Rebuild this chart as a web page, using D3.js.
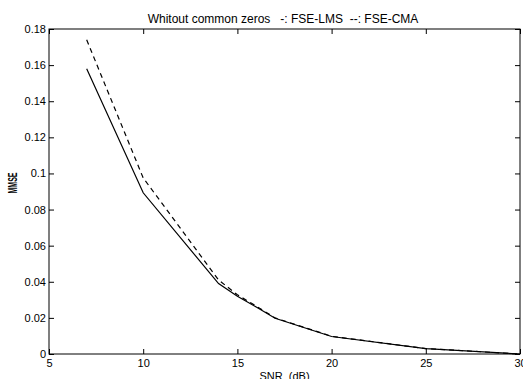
<!DOCTYPE html>
<html>
<head>
<meta charset="utf-8">
<script src="https://cdn.jsdelivr.net/npm/d3@7"></script>
<style>
    body { margin: 0; background: #fff; }
    svg { font-family: "Liberation Sans", Arial, sans-serif; }
    text { white-space: pre; }
</style>
</head>
<body>
<div id="chart"></div>
<script>
// SNR points (dB)
const snr = [7, 10, 14, 15, 16, 17, 20, 25, 30]
// -: FSE-LMS (solid)
const lmsMmse = [0.158, 0.0893, 0.039, 0.032, 0.026, 0.0198, 0.0097, 0.003, 0.0]
// --: FSE-CMA (dashed)
const cmaMmse = [0.174, 0.0975, 0.041, 0.0328, 0.0265, 0.0200, 0.0098, 0.003, 0.0]
const xTicks = [5, 10, 15, 20, 25, 30]
const yTicks = [0, 0.02, 0.04, 0.06, 0.08, 0.1, 0.12, 0.14, 0.16, 0.18]

const width = 523, height = 379
const margin = { top: 29, right: 3, bottom: 25, left: 49 }
const innerW = width - margin.left - margin.right
const innerH = height - margin.top - margin.bottom

const svg = d3.select('#chart').append('svg')
    .attr('width', width)
    .attr('height', height)

const g = svg.append('g')
    .attr('transform', `translate(${margin.left},${margin.top})`)

const x = d3.scaleLinear().domain([5, 30]).range([0, innerW])
const y = d3.scaleLinear().domain([0, 0.18]).range([innerH, 0])

// рамка
g.append('rect')
    .attr('width', innerW)
    .attr('height', innerH)
    .attr('fill', 'none')
    .attr('stroke', '#000')
    .attr('stroke-width', 1)

// оси, тики внутрь как в matlab
const fmtY = d => d === 0 ? '0' : String(+d.toFixed(2))
g.append('g')
    .attr('transform', `translate(0,${innerH})`)
    .call(d3.axisBottom(x).tickValues(xTicks).tickSize(-5).tickPadding(5).tickFormat(d3.format('d')))
g.append('g')
    .call(d3.axisTop(x).tickValues(xTicks).tickSize(-5).tickFormat(''))
g.append('g')
    .call(d3.axisLeft(y).tickValues(yTicks).tickSize(-5).tickPadding(3).tickFormat(fmtY))
g.append('g')
    .attr('transform', `translate(${innerW},0)`)
    .call(d3.axisRight(y).tickValues(yTicks).tickSize(-5).tickFormat(''))

g.selectAll('.domain').remove()
g.selectAll('.tick line').attr('stroke', '#000')
g.selectAll('.tick text')
    .attr('fill', '#000')
    .style('font-size', '11px')
    .style('font-family', '"Liberation Sans", Arial, sans-serif')

// линии
const line = d3.line()
    .x(d => x(d[0]))
    .y(d => y(d[1]))

g.append('path')
    .datum(snr.map((s, i) => [s, lmsMmse[i]]))
    .attr('fill', 'none')
    .attr('stroke', '#000')
    .attr('stroke-width', 1.2)
    .attr('d', line)

g.append('path')
    .datum(snr.map((s, i) => [s, cmaMmse[i]]))
    .attr('fill', 'none')
    .attr('stroke', '#000')
    .attr('stroke-width', 1.2)
    .attr('stroke-dasharray', '5,4')
    .attr('d', line)

// подписи
svg.append('text')
    .attr('x', 283)
    .attr('y', 23)
    .attr('text-anchor', 'middle')
    .style('font-size', '12px')
    .text('Whitout common zeros   -: FSE-LMS  --: FSE-CMA')

svg.append('text')
    .attr('x', margin.left + innerW / 2)
    .attr('y', 380)
    .attr('text-anchor', 'middle')
    .style('font-size', '11px')
    .text('SNR  (dB)')

svg.append('text')
    .attr('transform', `translate(17,183) rotate(-90)`)
    .attr('text-anchor', 'middle')
    .attr('textLength', 21)
    .attr('lengthAdjust', 'spacingAndGlyphs')
    .style('font-size', '12px')
    .style('font-weight', 'bold')
    .text('MMSE')
</script>
</body>
</html>
